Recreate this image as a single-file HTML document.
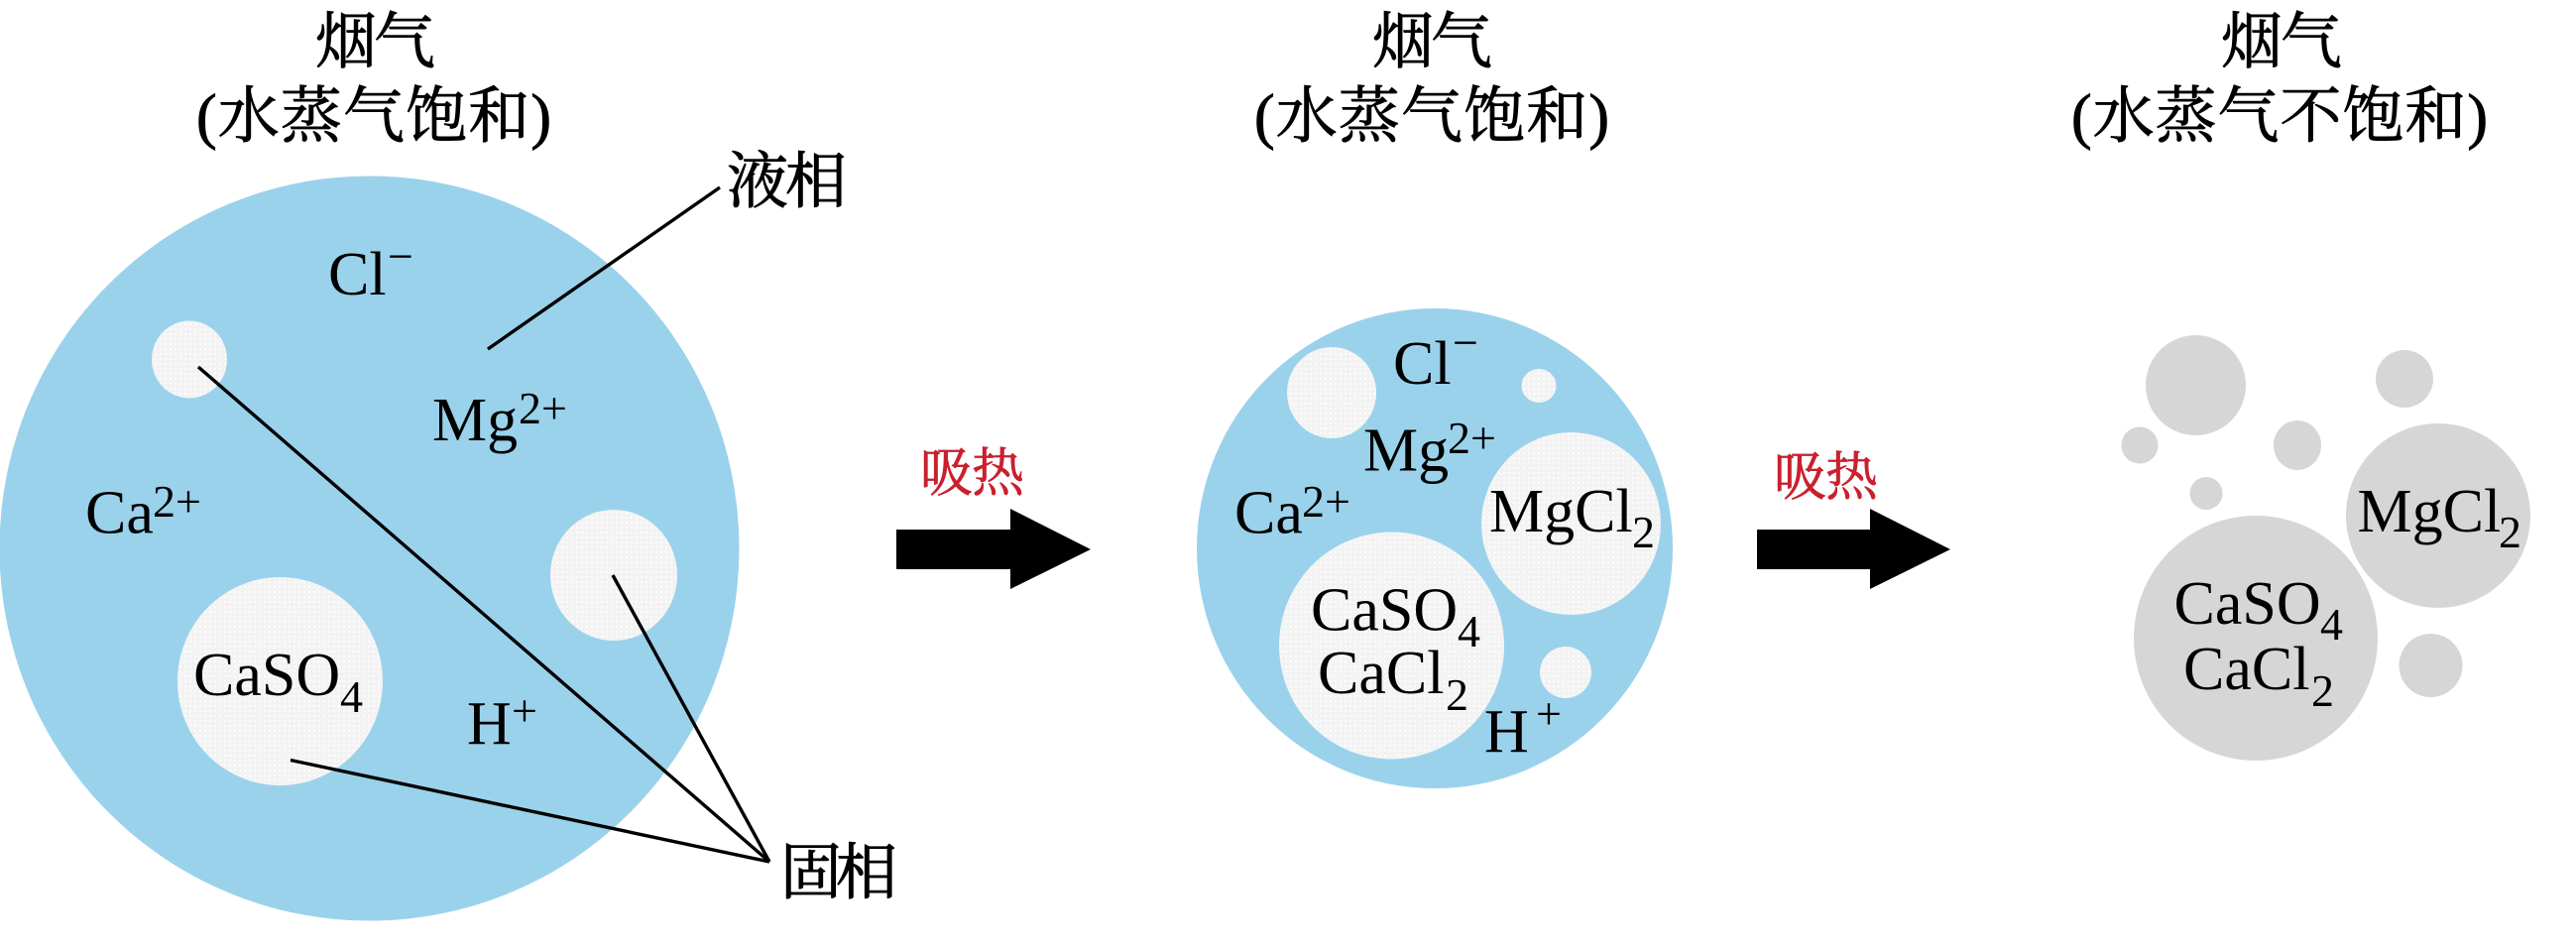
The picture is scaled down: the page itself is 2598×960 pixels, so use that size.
<!DOCTYPE html>
<html lang="zh">
<head>
<meta charset="utf-8">
<style>
html,body{margin:0;padding:0;background:#fff;width:2598px;height:960px;overflow:hidden}
svg{display:block}
text{font-family:"Liberation Serif","Noto Serif CJK SC",serif;fill:#000}
.t{font-size:62px;stroke:#000;stroke-width:.9px}
.e{font-size:62px}
.s{font-size:46px}
.r{font-size:53px;fill:#c9202f;stroke:#c9202f;stroke-width:.7px}
</style>
</head>
<body>
<svg width="2598" height="960" viewBox="0 0 2598 960" xmlns="http://www.w3.org/2000/svg">
<defs>
<pattern id="d" width="5" height="5" patternUnits="userSpaceOnUse">
<rect width="5" height="5" fill="#f3f3f4"/>
<rect x="1" y="1" width="2" height="2" fill="#fcfcfc"/>
</pattern>
</defs>
<rect width="2598" height="960" fill="#fff"/>

<!-- Panel 1 -->
<ellipse cx="372.5" cy="553" rx="373" ry="375.5" fill="#9ad2eb"/>
<ellipse cx="191" cy="362.5" rx="38" ry="39" fill="url(#d)"/>
<ellipse cx="619" cy="580" rx="64" ry="66" fill="url(#d)"/>
<ellipse cx="282.5" cy="687" rx="103.5" ry="105" fill="url(#d)"/>
<g stroke="#000" stroke-width="3.4" fill="none">
<line x1="726" y1="189" x2="492" y2="352"/>
<line x1="776" y1="869" x2="200" y2="370"/>
<line x1="776" y1="869" x2="618" y2="580"/>
<line x1="776" y1="869" x2="293" y2="766.5"/>
</g>
<text class="t" x="318" y="63" textLength="121">烟气</text>
<text class="t" x="198" y="138" textLength="358">(水蒸气饱和)</text>
<text class="t" x="733" y="204" textLength="121">液相</text>
<text class="t" x="787" y="901" textLength="118">固相</text>
<text class="e" x="331" y="297">Cl</text><text class="s" x="391" y="274">−</text>
<text class="e" x="436" y="444">Mg</text><text class="s" x="523" y="427">2+</text>
<text class="e" x="86" y="537.5">Ca</text><text class="s" x="154" y="521">2+</text>
<text class="e" x="195" y="701">CaSO</text><text class="s" x="343" y="718">4</text>
<text class="e" x="471" y="750">H</text><text class="s" x="516" y="732">+</text>

<!-- Arrow 1 -->
<polygon points="904,534 1019,534 1019,513 1100,554 1019,594 1019,574 904,574" fill="#000"/>
<text class="r" x="928" y="495" textLength="105">吸热</text>

<!-- Panel 2 -->
<ellipse cx="1447" cy="553" rx="240" ry="242" fill="#9ad2eb"/>
<ellipse cx="1343" cy="396" rx="45" ry="46" fill="url(#d)"/>
<ellipse cx="1552" cy="389" rx="17.5" ry="17" fill="url(#d)"/>
<ellipse cx="1584.5" cy="528" rx="90.5" ry="92" fill="url(#d)"/>
<ellipse cx="1403.5" cy="651" rx="113.5" ry="114.5" fill="url(#d)"/>
<ellipse cx="1579" cy="678" rx="26" ry="26" fill="url(#d)"/>
<text class="t" x="1384" y="63" textLength="121">烟气</text>
<text class="t" x="1265" y="138" textLength="358">(水蒸气饱和)</text>
<text class="e" x="1405" y="387">Cl</text><text class="s" x="1465" y="361">−</text>
<text class="e" x="1375" y="474.5">Mg</text><text class="s" x="1460" y="457">2+</text>
<text class="e" x="1245" y="537.5">Ca</text><text class="s" x="1313" y="521">2+</text>
<text class="e" x="1502" y="536">MgCl</text><text class="s" x="1646" y="552">2</text>
<text class="e" x="1322" y="635.5">CaSO</text><text class="s" x="1470" y="652">4</text>
<text class="e" x="1329" y="699">CaCl</text><text class="s" x="1458" y="716">2</text>
<text class="e" x="1497" y="758">H</text><text class="s" x="1549" y="735">+</text>

<!-- Arrow 2 -->
<polygon points="1772,534 1886,534 1886,513 1967,554 1886,594 1886,574 1772,574" fill="#000"/>
<text class="r" x="1789" y="499" textLength="105">吸热</text>

<!-- Panel 3 -->
<g fill="#d6d6d6">
<ellipse cx="2275" cy="643.5" rx="123" ry="123.5"/>
<ellipse cx="2459" cy="520" rx="93" ry="93"/>
<ellipse cx="2214.5" cy="388.5" rx="50.5" ry="50.5"/>
<ellipse cx="2425" cy="382" rx="29" ry="29"/>
<ellipse cx="2158" cy="449" rx="18.5" ry="18.5"/>
<ellipse cx="2317" cy="449" rx="24" ry="25"/>
<ellipse cx="2225" cy="497.5" rx="16.5" ry="16.5"/>
<ellipse cx="2451.5" cy="671" rx="32" ry="32"/>
</g>
<text class="t" x="2240" y="63" textLength="122">烟气</text>
<text class="t" x="2089" y="138" textLength="420">(水蒸气不饱和)</text>
<text class="e" x="2377.5" y="536">MgCl</text><text class="s" x="2520" y="552">2</text>
<text class="e" x="2192.5" y="629">CaSO</text><text class="s" x="2340" y="645">4</text>
<text class="e" x="2202" y="695">CaCl</text><text class="s" x="2331" y="712">2</text>
</svg>
</body>
</html>
